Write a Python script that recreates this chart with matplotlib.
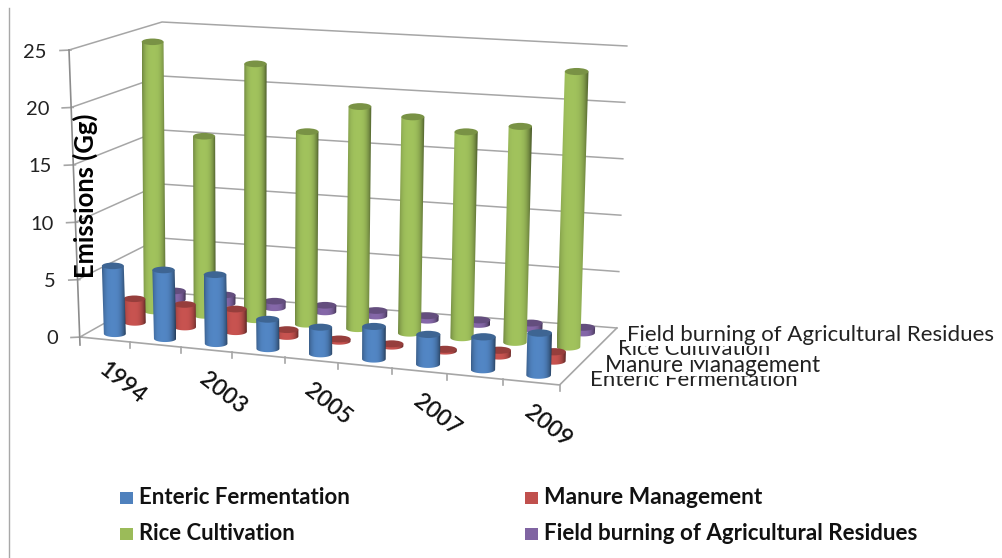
import numpy as np
import matplotlib
matplotlib.use('Agg')
import matplotlib.pyplot as plt
from matplotlib.patches import Ellipse, Rectangle, Polygon
from matplotlib.colors import to_rgb

plt.rcParams['font.family'] = ['Lato', 'DejaVu Sans']

# Emissions in Gg, one value per year
years = ['1994', '2000', '2003', '2004', '2005', '2006', '2007', '2008', '2009']
enteric = [5.95, 6.0, 6.0, 2.55, 2.3, 2.8, 2.56, 2.8, 3.57]
manure = [2.1, 2.0, 2.0, 0.6, 0.2, 0.2, 0.15, 0.5, 0.8]
rice = [24.3, 16.1, 22.9, 17.15, 19.7, 19.1, 18.1, 18.9, 24.0]
burning = [0.8, 0.8, 0.6, 0.6, 0.5, 0.4, 0.4, 0.5, 0.5]

series_names = ['Enteric Fermentation', 'Manure Management', 'Rice Cultivation',
                'Field burning of Agricultural Residues']
y_ticks = [0, 5, 10, 15, 20, 25]
y_max = 25

# corners of the chart box in pixels: (across, depth, height)
corners = {
    (0, 0, 0): (80, 337), (0, 0, 1): (69, 50),
    (1, 0, 0): (560, 385), (1, 0, 1): (568, 88),
    (0, 1, 0): (160, 292), (0, 1, 1): (162, 22),
    (1, 1, 0): (617, 328), (1, 1, 1): (627, 46),
}


def proj(u, v, w):
    # the categories widen towards the right, mostly along the front edge
    bend = 0.928 * u + 0.0712 * u ** 2 - u
    u = u + (1 - 0.6 * v) * bend
    # trilinear blend of the box corners
    x, y = 0.0, 0.0
    for (a, b, c), (px, py) in corners.items():
        k = (u if a else 1 - u) * (v if b else 1 - v) * (w if c else 1 - w)
        x += k * px
        y += k * py
    return x, y


def cylinder(ax, cat, ser, value, color, zorder):
    u = (cat + 0.5) / len(years)
    v = (ser + 0.5) / 4
    w = value / y_max
    du = 0.44 / len(years) / 2
    x0, y0 = proj(u, v, 0)
    x1, y1 = proj(u, v, w)
    r = (proj(u + du, v, 0)[0] - proj(u - du, v, 0)[0]) / 2
    ry = r * 0.3
    base = np.array(to_rgb(color))

    # side wall: horizontal gradient clipped to the cylinder outline
    t = np.linspace(-1, 1, 40)
    shade = 1.04 - 0.42 * np.abs(t + 0.1) ** 3
    grad = np.clip(base[None, None, :] * shade[None, :, None], 0, 1)
    xc = (x0 + x1) / 2
    half = r + abs(x1 - x0) / 2
    im = ax.imshow(grad, extent=(xc - half, xc + half, y0 + ry + 1, y1 - 1), aspect='auto',
                   interpolation='bilinear', zorder=zorder)
    angles = np.linspace(np.pi, 0, 40)
    outline = [(x0 + r * np.cos(a), y0 + ry * np.sin(a)) for a in angles]
    outline += [(x1 + r, y1), (x1 - r, y1)]
    clip = Polygon(outline, closed=True, transform=ax.transData)
    im.set_clip_path(clip)
    ax.add_patch(Ellipse((x1, y1), 2 * r, 2 * ry, facecolor=base * 0.78,
                         edgecolor='none', zorder=zorder + 0.1))


def fit_text(fig, text, width):
    # pick the font size that gives the text its full width in pixels
    size = text.get_fontsize()
    bb = text.get_window_extent(fig.canvas.get_renderer())
    extent = bb.height if text.get_rotation() == 90 else bb.width
    text.set_fontsize(size * width / extent)


fig = plt.figure(figsize=(10.03, 5.58), dpi=100)
ax = fig.add_axes([0, 0, 1, 1])
ax.axis('off')

grid = '#a6a6a6'
# frame line on the left of the figure
ax.plot([9.5, 9.5], [8, 558], color='#a8a8a8', lw=1.0)

# gridlines on the side wall and the back wall
for t in y_ticks:
    w = t / y_max
    pts = [proj(0, 0, w), proj(0, 1, w), proj(1, 1, w)]
    ax.plot(*zip(*pts), color=grid, lw=1.1, zorder=1)
    x, y = proj(0, 0, w)
    ax.plot([x - 9, x + 2], [y + 0.5, y], color=grid, lw=1.2, zorder=1)
    ax.text(x - 22, y + 2, str(t), ha='right', va='center', fontsize=14.5, color='#222222')

# front and right edges of the floor, the left axis, and their ticks
ax.plot(*zip(proj(0, 0, 0), proj(1, 0, 0), proj(1, 1, 0)), color=grid, lw=1.2, zorder=1)
x_low, y_low = proj(0, 0, 0)
x_top, y_top = proj(0, 0, 1)
ax.plot([x_low, x_top], [y_low + 8, y_top], color='#8c8c8c', lw=1.2, zorder=1)
for i in range(1, len(years) + 1):
    x, y = proj(i / len(years), 0, 0)
    ax.plot([x, x], [y, y + 6], color=grid, lw=1.2, zorder=1)

# back rows first so the nearer cylinders cover them
colors = ['#4f81bd', '#c0504d', '#9bbb59', '#8064a2']
rows = [enteric, manure, rice, burning]
for ser in [3, 2, 1, 0]:
    for cat, value in enumerate(rows[ser]):
        cylinder(ax, cat, ser, value, colors[ser], 3 + (3 - ser))

# imshow changes the limits, so they are fixed after the cylinders
ax.set_xlim(0, 1003)
ax.set_ylim(558, 0)

# every second year gets a label under the floor
for cat in range(0, len(years), 2):
    x, y = proj((cat + 0.5) / len(years), 0, 0)
    ax.text(x + 17, y + 44, years[cat], rotation=-38, ha='center', va='center',
            fontsize=16.5, rotation_mode='anchor', color='#111111', fontweight='semibold')

# depth axis labels; each white box covers the top of the label before it
depth_left = [590, 605, 618, 627]
depth_y = [380, 365, 349, 335]
depth_w = [207, 214, 152, 365]
for i in range(4):
    t = ax.text(depth_left[i], depth_y[i], series_names[i], ha='left', va='center',
                fontsize=13, color='#222222', zorder=10 + i,
                bbox=dict(facecolor='white', edgecolor='none', pad=0.5))
    fit_text(fig, t, depth_w[i])

label = ax.text(85, 196, 'Emissions (Gg)', rotation=90, ha='center', va='center',
                fontsize=16, fontweight='bold', color='black', zorder=12)
fit_text(fig, label, 165)

# legend below the chart
legend_x = [120, 525, 120, 525]
legend_y = [498, 498, 534, 534]
legend_w = [211, 219, 156, 374]
for i in range(4):
    ax.add_patch(Rectangle((legend_x[i], legend_y[i] - 6), 13, 12, facecolor=colors[i],
                           edgecolor='none'))
    t = ax.text(legend_x[i] + 19, legend_y[i], series_names[i], ha='left', va='center',
                fontsize=13, fontweight='bold', color='#111111')
    fit_text(fig, t, legend_w[i])

fig.savefig('out.png', dpi=100)
